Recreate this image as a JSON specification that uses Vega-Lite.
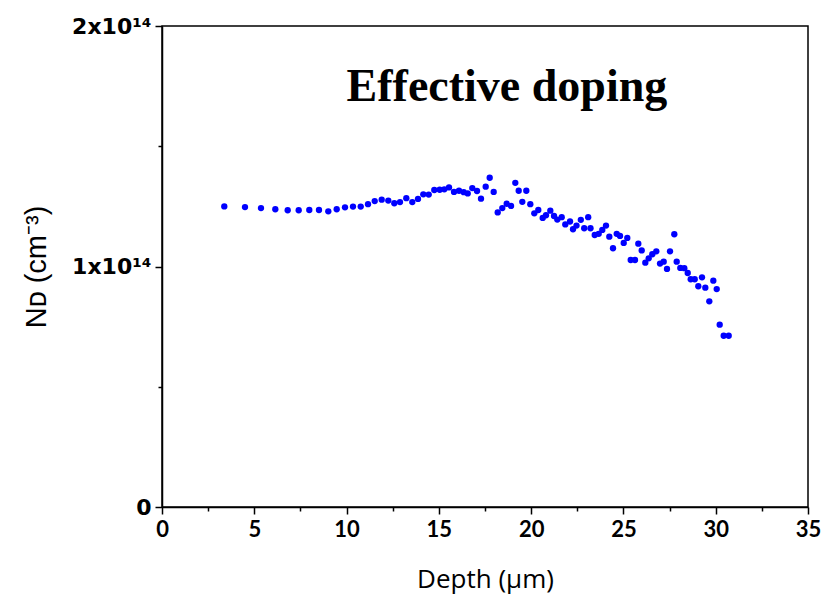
{
  "$schema": "https://vega.github.io/schema/vega-lite/v6.json",
  "width": 646,
  "height": 481,
  "autosize": {"type": "none"},
  "padding": {"left": 162, "top": 26, "right": 19, "bottom": 98},
  "background": "white",
  "config": {
    "view": {"stroke": "black", "strokeWidth": 1.5},
    "axis": {"domainColor": "black", "domainWidth": 1.5, "tickColor": "black", "tickWidth": 1.5, "grid": false, "labelColor": "black", "titleColor": "black", "labelFlush": false}
  },
  "datasets": {
    "pts": [
      {"depth": 3.375, "nd": 1.250e14}, {"depth": 4.497, "nd": 1.247e14}, {"depth": 5.364, "nd": 1.243e14},
      {"depth": 6.139, "nd": 1.238e14}, {"depth": 6.810, "nd": 1.234e14}, {"depth": 7.406, "nd": 1.234e14},
      {"depth": 7.981, "nd": 1.235e14}, {"depth": 8.506, "nd": 1.235e14}, {"depth": 9.010, "nd": 1.2295e14},
      {"depth": 9.465, "nd": 1.238e14}, {"depth": 9.915, "nd": 1.246e14}, {"depth": 10.348, "nd": 1.249e14},
      {"depth": 10.766, "nd": 1.249e14}, {"depth": 11.161, "nd": 1.259e14}, {"depth": 11.524, "nd": 1.272e14},
      {"depth": 11.904, "nd": 1.278e14}, {"depth": 12.261, "nd": 1.274e14}, {"depth": 12.586, "nd": 1.263e14},
      {"depth": 12.895, "nd": 1.268e14}, {"depth": 13.236, "nd": 1.284e14}, {"depth": 13.561, "nd": 1.268e14},
      {"depth": 13.870, "nd": 1.281e14}, {"depth": 14.157, "nd": 1.300e14}, {"depth": 14.450, "nd": 1.299e14},
      {"depth": 14.753, "nd": 1.318e14}, {"depth": 15.046, "nd": 1.319e14}, {"depth": 15.295, "nd": 1.321e14},
      {"depth": 15.550, "nd": 1.329e14}, {"depth": 15.821, "nd": 1.310e14}, {"depth": 16.091, "nd": 1.315e14},
      {"depth": 16.346, "nd": 1.309e14}, {"depth": 16.563, "nd": 1.304e14}, {"depth": 16.812, "nd": 1.326e14},
      {"depth": 17.067, "nd": 1.314e14}, {"depth": 17.283, "nd": 1.282e14}, {"depth": 17.538, "nd": 1.332e14},
      {"depth": 17.755, "nd": 1.369e14}, {"depth": 17.971, "nd": 1.310e14}, {"depth": 18.188, "nd": 1.225e14},
      {"depth": 18.437, "nd": 1.243e14}, {"depth": 18.676, "nd": 1.261e14}, {"depth": 18.909, "nd": 1.252e14},
      {"depth": 19.142, "nd": 1.348e14}, {"depth": 19.326, "nd": 1.315e14}, {"depth": 19.521, "nd": 1.269e14},
      {"depth": 19.738, "nd": 1.315e14}, {"depth": 19.954, "nd": 1.259e14}, {"depth": 20.171, "nd": 1.221e14},
      {"depth": 20.388, "nd": 1.235e14}, {"depth": 20.626, "nd": 1.202e14}, {"depth": 20.805, "nd": 1.213e14},
      {"depth": 21.038, "nd": 1.232e14}, {"depth": 21.239, "nd": 1.210e14}, {"depth": 21.417, "nd": 1.195e14},
      {"depth": 21.656, "nd": 1.205e14}, {"depth": 21.851, "nd": 1.175e14}, {"depth": 22.106, "nd": 1.187e14},
      {"depth": 22.268, "nd": 1.155e14}, {"depth": 22.458, "nd": 1.170e14}, {"depth": 22.691, "nd": 1.194e14},
      {"depth": 22.875, "nd": 1.159e14}, {"depth": 23.091, "nd": 1.205e14}, {"depth": 23.216, "nd": 1.159e14},
      {"depth": 23.444, "nd": 1.131e14}, {"depth": 23.660, "nd": 1.136e14}, {"depth": 23.855, "nd": 1.152e14},
      {"depth": 24.056, "nd": 1.170e14}, {"depth": 24.235, "nd": 1.124e14}, {"depth": 24.435, "nd": 1.076e14},
      {"depth": 24.636, "nd": 1.136e14}, {"depth": 24.815, "nd": 1.127e14}, {"depth": 25.015, "nd": 1.098e14},
      {"depth": 25.210, "nd": 1.119e14}, {"depth": 25.394, "nd": 1.027e14}, {"depth": 25.627, "nd": 1.027e14},
      {"depth": 25.806, "nd": 1.095e14}, {"depth": 25.990, "nd": 1.067e14}, {"depth": 26.185, "nd": 1.016e14},
      {"depth": 26.369, "nd": 1.034e14}, {"depth": 26.564, "nd": 1.051e14}, {"depth": 26.781, "nd": 1.063e14},
      {"depth": 26.982, "nd": 1.012e14}, {"depth": 27.182, "nd": 1.020e14}, {"depth": 27.361, "nd": 0.990e14},
      {"depth": 27.524, "nd": 1.063e14}, {"depth": 27.756, "nd": 1.134e14}, {"depth": 27.887, "nd": 1.020e14},
      {"depth": 28.082, "nd": 0.994e14}, {"depth": 28.298, "nd": 0.993e14}, {"depth": 28.483, "nd": 0.973e14},
      {"depth": 28.645, "nd": 0.947e14}, {"depth": 28.862, "nd": 0.947e14}, {"depth": 29.057, "nd": 0.918e14},
      {"depth": 29.257, "nd": 0.955e14}, {"depth": 29.436, "nd": 0.912e14}, {"depth": 29.653, "nd": 0.855e14},
      {"depth": 29.870, "nd": 0.941e14}, {"depth": 30.054, "nd": 0.906e14}, {"depth": 30.216, "nd": 0.758e14},
      {"depth": 30.433, "nd": 0.712e14}, {"depth": 30.704, "nd": 0.712e14}
    ],
    "label": [{"depth": 18.69, "nd": 1.69e14, "text": "Effective doping"}]
  },
  "layer": [
    {
      "data": {"name": "pts"},
      "mark": {"type": "circle", "size": 40, "color": "#0000ff", "opacity": 1},
      "encoding": {
        "x": {
          "field": "depth", "type": "quantitative",
          "scale": {"domain": [0, 35], "nice": false, "zero": false},
          "axis": {
            "title": "Depth (μm)",
            "values": [0, 2.5, 5, 7.5, 10, 12.5, 15, 17.5, 20, 22.5, 25, 27.5, 30, 32.5, 35],
            "labelExpr": "datum.value % 5 == 0 ? datum.label : ''",
            "tickSize": {"condition": {"test": "datum.value % 5 == 0", "value": 7}, "value": 4},
            "labelFont": "Lato", "labelFontWeight": "bold", "labelFontSize": 22, "labelPadding": 5,
            "titleFont": "Open Sans", "titleFontWeight": "normal", "titleFontSize": 26, "titlePadding": 26
          }
        },
        "y": {
          "field": "nd", "type": "quantitative",
          "scale": {"domain": [0, 2e14], "nice": false, "zero": false},
          "axis": {
            "title": "Nᴅ (cm⁻³)",
            "values": [0, 0.5e14, 1e14, 1.5e14, 2e14],
            "labelExpr": "datum.value == 0 ? '0' : (datum.value % 1e14 == 0 ? format(datum.value / 1e14, 'd') + 'x10¹⁴' : '')",
            "tickSize": {"condition": {"test": "datum.value % 1e14 == 0", "value": 7}, "value": 4},
            "labelFont": "DejaVu Sans", "labelFontWeight": "bold", "labelFontSize": 22, "labelPadding": 4,
            "titleFont": "Liberation Sans", "titleFontWeight": "normal", "titleFontSize": 29, "titlePadding": 20
          }
        }
      }
    },
    {
      "data": {"name": "label"},
      "mark": {"type": "text", "font": "Liberation Serif", "fontWeight": "bold", "fontSize": 46, "align": "center", "baseline": "alphabetic", "color": "black"},
      "encoding": {
        "x": {"field": "depth", "type": "quantitative"},
        "y": {"field": "nd", "type": "quantitative"},
        "text": {"field": "text"}
      }
    }
  ]
}
